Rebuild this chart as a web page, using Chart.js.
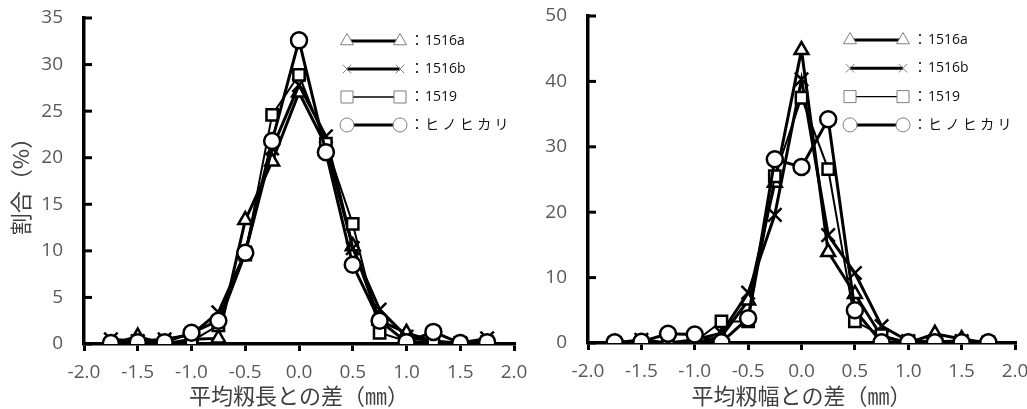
<!DOCTYPE html>
<html>
<head>
<meta charset="utf-8">
<script src="https://cdn.jsdelivr.net/npm/chart.js@4.4.1/dist/chart.umd.min.js"></script>
<style>
  body { margin: 0; background: #fff; }
  #wrap { position: relative; width: 1027px; height: 409px; overflow: hidden; }
  canvas { position: absolute; top: 0; }
</style>
</head>
<body>
<div id="wrap">
  <canvas id="lenChart" width="540" height="409" style="left:0"></canvas>
  <canvas id="widChart" width="507" height="409" style="left:520px"></canvas>
</div>
<script>
// x positions (difference from mean, mm)
const diffs = [-1.75, -1.5, -1.25, -1.0, -0.75, -0.5, -0.25, 0, 0.25, 0.5, 0.75, 1.0, 1.25, 1.5, 1.75];
const seriesNames = ['1516a', '1516b', '1519', 'ヒノヒカリ'];

// grain length (%)
const len1516a = [0, 0.8, 0, 0.5, 0.6, 13.3, 19.6, 27.0, 21.3, 10.5, 2.5, 1.2, 0.3, 0, 0];
const len1516b = [0.5, 0.3, 0.5, 1.0, 3.4, 9.8, 21.0, 27.8, 22.3, 10.3, 3.7, 0.8, 0.3, 0.1, 0.6];
const len1519 = [0, 0.1, 0, 0.3, 2.0, 9.6, 24.6, 28.9, 21.5, 12.9, 1.2, 0.3, 0.3, 0, 0.2];
const lenHino = [0.1, 0.2, 0.2, 1.2, 2.5, 9.8, 21.8, 32.6, 20.6, 8.5, 2.5, 0.2, 1.3, 0.1, 0.2];

// grain width (%)
const wid1516a = [0, 0, 0, 0, 1.0, 6.5, 24.5, 44.8, 13.9, 7.5, 1.0, 0, 1.4, 0.6, 0];
const wid1516b = [0, 0.5, 0, 0.5, 1.5, 7.7, 19.6, 40.3, 16.5, 10.7, 2.6, 0.3, 0.2, 0.3, 0];
const wid1519 = [0, 0, 0, 0.2, 3.3, 3.3, 25.5, 37.5, 26.6, 3.3, 1.2, 0.1, 0.2, 0.1, 0.1];
const widHino = [0.1, 0.2, 1.4, 1.3, 0.1, 3.8, 28.1, 26.9, 34.2, 5.0, 0.1, 0.1, 0.1, 0.1, 0.1];

const xTickStep = 0.5;
const lenYMax = 35, lenYStep = 5;
const widYMax = 50, widYStep = 10;

const tickFont = { family: "'Open Sans', 'Noto Sans CJK JP'", size: 19 };
const titleFont = { family: "'Noto Sans CJK JP'", size: 22 };

// marker / line style per series
const styles = [
  { pointStyle: 'triangle', radius: 8, lineWidth: 3, legendRadius: 7.5, order: 3 },
  { pointStyle: 'crossRot', radius: 9.5, lineWidth: 3, legendRadius: 6, order: 2 },
  { pointStyle: 'rect', radius: 8, lineWidth: 2, legendRadius: 8.5, order: 1 },
  { pointStyle: 'circle', radius: 8, lineWidth: 3, legendRadius: 7, order: 0 }
];

function makeDatasets(arrays) {
  return arrays.map((arr, i) => ({
    label: seriesNames[i],
    data: diffs.map((x, j) => ({ x: x, y: arr[j] })),
    borderColor: '#000',
    backgroundColor: '#fff',
    borderWidth: styles[i].lineWidth,
    pointStyle: styles[i].pointStyle,
    pointRadius: styles[i].radius,
    pointBorderWidth: 2.5,
    pointBorderColor: '#000',
    pointBackgroundColor: '#fff',
    order: styles[i].order,
    tension: 0
  }));
}

// legend drawn like the original: marker — line — marker ：name
const symLegend = {
  id: 'symLegend',
  afterDraw(chart, args, opts) {
    const ctx = chart.ctx;
    ctx.save();
    seriesNames.forEach((name, i) => {
      const y = opts.y0 + i * opts.dy;
      const st = styles[i];
      ctx.strokeStyle = '#000';
      ctx.lineWidth = st.lineWidth === 2 ? 1.3 : 3;
      ctx.beginPath();
      ctx.moveTo(opts.x1, y);
      ctx.lineTo(opts.x2, y);
      ctx.stroke();
      ctx.strokeStyle = '#7f7f7f';
      ctx.fillStyle = '#fff';
      ctx.lineWidth = 1;
      [opts.x1, opts.x2].forEach(px => {
        Chart.helpers.drawPoint(ctx, { pointStyle: st.pointStyle, radius: st.legendRadius, borderWidth: 1 }, px, y);
      });
      ctx.fillStyle = '#111';
      ctx.font = "14px 'Open Sans', 'Noto Sans CJK JP'";
      ctx.textBaseline = 'middle';
      ctx.textAlign = 'left';
      ctx.fillText('：', opts.textX, y);
      let tx = opts.textX + 15;
      const extra = /^[\x00-\x7f]+$/.test(name) ? 0 : 3.4;
      for (const ch of name) {
        ctx.fillText(ch, tx, y);
        tx += ctx.measureText(ch).width + extra;
      }
    });
    ctx.restore();
  }
};

// short tick marks pointing into the plot on the y axis
const innerTicks = {
  id: 'innerTicks',
  afterDraw(chart) {
    const ctx = chart.ctx;
    const ys = chart.scales.y;
    const left = chart.chartArea.left;
    ctx.save();
    ctx.strokeStyle = '#000';
    ctx.lineWidth = 3;
    ys.ticks.forEach(t => {
      const py = ys.getPixelForValue(t.value);
      ctx.beginPath();
      ctx.moveTo(left, py);
      ctx.lineTo(left + 8, py);
      ctx.stroke();
    });
    ctx.restore();
  }
};

function makeChart(id, arrays, cfg) {
  return new Chart(document.getElementById(id), {
    type: 'line',
    data: { datasets: makeDatasets(arrays) },
    plugins: [innerTicks, symLegend],
    options: {
      responsive: false,
      animation: false,
      layout: { autoPadding: false, padding: { top: cfg.top, right: cfg.right, left: 0, bottom: 0 } },
      plugins: {
        legend: { display: false },
        tooltip: { enabled: false },
        symLegend: cfg.legend
      },
      scales: {
        x: {
          type: 'linear',
          min: -2, max: 2,
          afterFit: s => {
            s.height = 409 - cfg.bottom;
            s.paddingLeft = 0;
            s.paddingRight = 0;
          },
          ticks: {
            stepSize: xTickStep,
            color: '#595959',
            font: tickFont,
            padding: 10,
            maxRotation: 0,
            callback: v => v.toFixed(1)
          },
          grid: { display: true, drawOnChartArea: false, drawTicks: true, tickLength: 7, color: '#000', lineWidth: 3 },
          border: { display: true, color: '#000', width: 3.5 },
          title: {
            display: true,
            text: cfg.xTitle,
            color: '#404040',
            font: titleFont,
            padding: { top: 0, bottom: 0 }
          }
        },
        y: {
          min: 0, max: cfg.yMax,
          afterFit: s => {
            s.width = cfg.left;
            s.paddingTop = 0;
            s.paddingBottom = 0;
          },
          ticks: { stepSize: cfg.yStep, color: '#595959', font: tickFont, padding: 21 },
          grid: { display: false, drawTicks: false },
          border: { display: true, color: '#000', width: 3.5 },
          title: {
            display: !!cfg.yTitle,
            text: cfg.yTitle || '',
            color: '#404040',
            font: titleFont,
            padding: { top: 7, bottom: 0 }
          }
        }
      }
    }
  });
}

makeChart('lenChart', [len1516a, len1516b, len1519, lenHino], {
  top: 18, right: 540 - 514, left: 84, bottom: 344,
  yMax: lenYMax, yStep: lenYStep,
  xTitle: '平均籾長との差（㎜）', yTitle: '割合（%）',
  legend: { x1: 347, x2: 400, y0: 41, dy: 28, textX: 410 }
});

makeChart('widChart', [wid1516a, wid1516b, wid1519, widHino], {
  top: 16, right: 507 - 495, left: 68, bottom: 343,
  yMax: widYMax, yStep: widYStep,
  xTitle: '平均籾幅との差（㎜）', yTitle: '',
  legend: { x1: 330, x2: 383, y0: 40, dy: 28.3, textX: 393 }
});
</script>
</body>
</html>
